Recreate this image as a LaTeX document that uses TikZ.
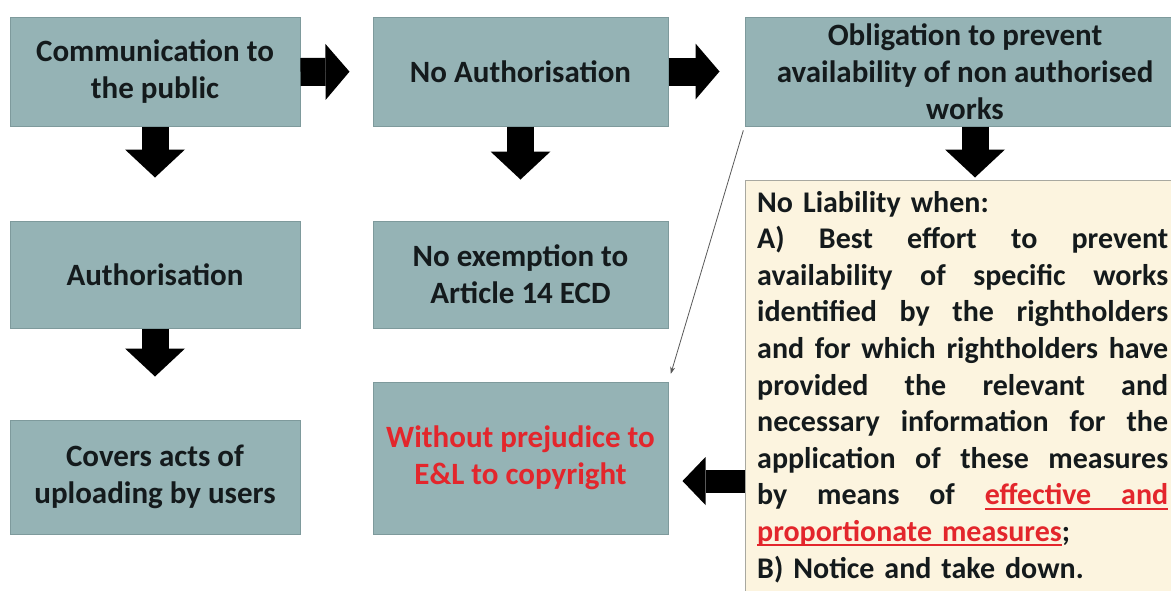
\documentclass[tikz,border=0pt]{standalone}
\usepackage{fontspec}
\setmainfont{Carlito}
\usetikzlibrary{arrows.meta,calc}
\definecolor{boxfill}{HTML}{95B3B5}
\definecolor{boxline}{HTML}{7E9A9C}
\definecolor{cream}{HTML}{FCF4DF}
\definecolor{creamline}{HTML}{A8A8A0}
\definecolor{txt}{HTML}{141A1C}
\definecolor{redtxt}{HTML}{E3262C}
\newcommand\ulw[1]{\leavevmode\setbox0=\hbox{#1}\rlap{\vrule height -3pt depth 5pt width\wd0}\box0}
\newcommand\jline[1]{\leavevmode\hbox to\linewidth{\spaceskip=0.25em plus 10em\xspaceskip=0.25em plus 10em #1}}
\tikzset{
  box/.style={draw=boxline, fill=boxfill, line width=1pt, inner sep=0pt, align=center,
    text=txt, font=\fontsize{31}{37}\selectfont\bfseries},
  blk/.style={line width=#1, draw=black},
  rarrow/.style={blk=28pt, -{Triangle[width=56pt,length=24pt,line width=0pt]}},
  darrow/.style={blk=27pt, -{Triangle[width=60pt,length=28pt,line width=0pt]}},
  larrow/.style={blk=23pt, -{Triangle[width=48pt,length=23pt,line width=0pt]}},
  thinarrow/.style={line width=0.8pt, draw=black!65, -{Stealth[length=7pt,width=5pt]}}
}
\begin{document}
\begin{tikzpicture}[x=1pt,y=-1pt]
\useasboundingbox (0,0) rectangle (1171,590);
\fill[white] (0,0) rectangle (1171,590);
\clip (0,0) rectangle (1171,590);
% row 1
\node[box, minimum width=290pt, minimum height=109pt] (cp) at (155,72) {Communication to\\the public};
\node[box, minimum width=295pt, minimum height=109pt] (na) at (520.5,71.5) {No Authorisation};
\node[box, minimum width=440pt, minimum height=109pt] (ob) at (965,71.5) {Obligation to prevent\\availability of non authorised\\works};
% row 2
\node[box, minimum width=290pt, minimum height=107pt] (au) at (155,274.5) {Authorisation};
\node[box, minimum width=295pt, minimum height=107pt] (ne) at (520.5,274.5) {No exemption to\\Article 14 ECD};
% row 3
\node[box, minimum width=290pt, minimum height=114pt] (cv) at (155,477) {Covers acts of\\uploading by users};
\node[box, minimum width=295pt, minimum height=152pt, text=redtxt] (wp) at (520.5,458) {Without prejudice to\\E\&L to copyright};
% cream box
\node[draw=creamline, fill=cream, line width=1pt, minimum width=460pt, minimum height=430pt, inner sep=0pt] (yl) at (975,395) {};
\node[anchor=base west, inner sep=0pt, text width=411pt, align=left, text=txt,
  font=\fontsize{30}{36.6}\selectfont\bfseries] (yt) at (757,212) {%
No Liability when:\\
\jline{A) Best effort to prevent}\\
\jline{availability of specific works}\\
\jline{identified by the rightholders}\\
\jline{and for which rightholders have}\\
\jline{provided the relevant and}\\
\jline{necessary information for the}\\
\jline{application of these measures}\\
\leavevmode\hbox to\linewidth{by\hfill means\hfill of\hfill{\color{redtxt}\ulw{effective}\leaders\hrule height -3pt depth 5pt\hfill\ulw{and}}}\\
\leavevmode{\color{redtxt}\ulw{proportionate measures}};\\
B) Notice and take down.};
% block arrows
\draw[rarrow, shorten >=23pt] (cp.east) -- (na.west);
\draw[rarrow, shorten >=25pt] (na.east) -- (ob.west);
\draw[darrow, shorten >=43pt] (cp.south) -- (au.north);
\draw[darrow, shorten >=41pt] (na.south) -- (ne.north);
\draw[darrow, shorten >=43pt] (au.south) -- (cv.north);
\draw[darrow, shorten >=2pt] (ob.south -| yl.north) -- (yl.north);
\coordinate (la) at (yl.west |- 0,481);
\draw[larrow, shorten >=14pt] (la) -- (la -| wp.east);
% thin arrow
\draw[thinarrow, shorten <=4pt, shorten >=8pt] (ob.south west) -- (wp.north east);
\end{tikzpicture}
\end{document}
